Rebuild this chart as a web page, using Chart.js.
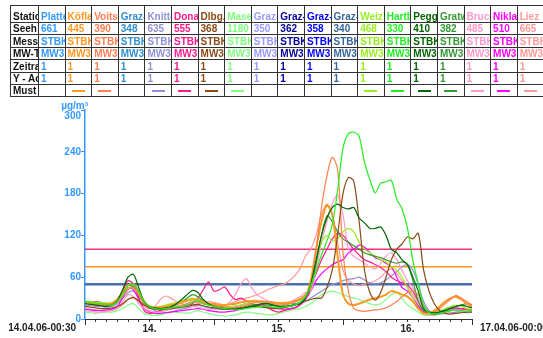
<!DOCTYPE html>
<html>
<head>
<meta charset="utf-8">
<script src="https://cdn.jsdelivr.net/npm/chart.js@4/dist/chart.umd.min.js"></script>
<style>
  html, body { margin: 0; padding: 0; background: #fff; overflow: hidden; }
  body { width: 543px; height: 338px; position: relative; font-family: "Liberation Sans", Arial, sans-serif; }
  #chart { position: absolute; left: 0; top: 0; }
  #info { position: absolute; left: 10px; top: 5px; border-collapse: collapse; table-layout: fixed; width: 533.4px; font-weight: bold; font-size: 10px; }
  #info td { border: 1px solid #333; padding: 0 0 0 2px; overflow: hidden; white-space: nowrap; line-height: 10px; vertical-align: bottom; }
  #info tr { height: 12.4px; }
  #info tr.head { height: 17px; }
  #info td.must { text-align: center; vertical-align: middle; padding: 0; }
  .sample { display: inline-block; width: 13px; height: 1.5px; vertical-align: middle; }
</style>
</head>
<body>
<canvas id="chart" width="543" height="338"></canvas>
<table id="info"></table>
<script>
// station table
const rowLabels = ['Statio', 'Seeh', 'Mess', 'MW-T', 'Zeitra', 'Y - Ac', 'Must'];
const stationNames = ['Platte', 'Köfla', 'Voits', 'Graz-', 'Knitte', 'Dona', 'Dlbg.', 'Mase', 'Graz-', 'Graz-', 'Graz-', 'Graz-', 'Weiz', 'Hartb', 'Pegg', 'Gratw', 'Bruck', 'Nikla', 'Liez'];
const stationHeights = [661, 445, 390, 348, 635, 555, 368, 1180, 350, 362, 358, 340, 468, 330, 410, 382, 485, 510, 665];
const stationColors = ['#3399ff', '#ff9922', '#ff7f50', '#2f8fd0', '#9090d8', '#ff1a8c', '#8b4a14', '#80ff80', '#9999ff', '#000099', '#0000ff', '#336699', '#99ee22', '#22ee22', '#006600', '#339933', '#ff99cc', '#ff00ff', '#ff9999'];
const messLabel = 'STBK';
const mwLabel = 'MW3';
const zeitLabel = '1';
const yLabel = '1';

// hourly values from 14.04. 00:00 to 17.04. 00:00
const hours = Array.from({ length: 73 }, (_, i) => i);

const koefla = [24,23,22,22,21,22,28,38,48,50,40, 25,18,16,17,18,20,22,24,26,28,27,25,22,
  22,20,20,21,22,24,25,26,26,25,24,24,23,23,24,26,28, 32,55,100,140,163,150,90,35,22,20,22,25,
  28,30,32,35,40,38,35,32,25,15,8,8, 12,18,25,30,32,28,22,18];
const voits = [22,21,20,20,19,20,24,32,42,45,35, 22,16,14,14,15,16,18,20,22,25,24,22,20,
  20,18,17,16,16,18,20,22,24,25,24,22,20,20,22,24,28, 35,45,100,160,205,232,215,95,40,15,12,11,
  12,13,14,16,20,25,32,38,40,35,20,10, 10,15,22,28,34,30,25,20];
const knitte = [20,19,18,18,17,18,22,30,38,40,32, 22,16,12,10,9,10,12,14,16,18,20,18,16,
  15,14,14,15,18,20,22,24,25,24,22,20,20,21,22,22,22, 25,30,35,40,45,50,52,55,57,58,60,56,
  52,50,52,56,62,68,75,78,70,50,25,12, 8,7,8,9,10,10,9,10];
const dona = [22,24,25,24,22,22,28,40,55,50,30, 12,8,10,12,14,15,16,18,20,22,30,42,53,
  40,42,46,35,28,30,26,22,20,18,16,12,10,12,14,16,20, 30,45,65,85,100,115,123,120,110,100,92,85,
  82,78,74,68,60,55,52,48,40,25,12,8, 6,8,10,12,14,15,14,12];
const dlbg = [18,17,16,15,15,16,18,22,28,31,26, 20,16,14,13,14,15,16,17,18,20,21,19,17,
  16,15,14,14,15,16,17,18,18,17,16,15,15,16,18,20,24, 26,28,30,30,45,70,120,180,203,198,140,70,
  38,27,38,60,85,100,108,118,115,123,70,40, 22,12,8,7,8,9,10,10];
const mase = [10,9,8,9,10,10,12,15,20,22,15, 8,6,5,6,8,10,10,9,8,10,12,10,8,
  6,5,4,5,6,8,10,9,8,7,6,6,8,10,12,14,15, 18,22,28,35,38,40,38,35,32,30,28,25,
  22,20,22,28,35,38,30,20,15,10,6,5, 6,8,10,12,12,10,9,10];
const weiz = [26,25,24,24,23,24,28,38,45,44,35, 22,18,17,18,20,22,24,26,28,30,28,25,22,
  20,19,18,18,19,20,22,24,25,24,22,21,20,20,22,25,30, 35,45,80,110,120,112,115,125,130,125,110,100,
  95,90,85,82,75,70,60,45,30,15,8,8, 10,12,15,18,20,18,15,14];
const hartb = [25,24,23,22,21,20,25,35,48,50,40, 25,18,15,14,15,16,17,18,20,24,26,22,20,
  18,16,15,14,13,14,15,16,17,18,18,17,16,17,18,20,24, 32,48,70,92,112,135,185,245,266,268,262,225,
  200,181,195,197,199,172,158,130,84,50,20,9, 7,8,10,12,13,12,11,12];
const pegg = [22,21,20,19,18,20,26,42,60,64,45, 25,18,16,15,16,18,22,28,35,41,38,28,22,
  18,16,15,14,14,15,16,18,20,22,22,20,18,18,19,20,22, 30,50,85,120,145,160,165,160,158,160,145,138,
  130,130,132,120,100,95,85,78,60,40,15,10, 9,10,12,15,18,20,18,16];
const gratw = [24,23,22,21,20,22,27,38,48,46,35, 22,17,15,14,15,17,20,24,30,35,32,26,22,
  19,17,16,15,15,16,18,20,21,21,20,19,18,18,19,21,24, 30,45,80,120,148,140,125,115,110,105,100,95,
  92,90,88,85,82,80,82,78,55,25,12,9, 8,10,13,16,18,20,22,20];
const bruck = [12,11,10,10,11,12,15,25,35,32,22, 15,12,10,10,12,14,15,16,18,18,17,15,14,
  14,15,18,25,35,50,58,45,35,30,26,24,22,22,24,28,32, 38,40,70,110,140,165,178,150,100,90,85,80,
  75,72,80,90,95,85,70,55,45,30,15,10, 8,9,10,12,13,12,11,12];
const nikla = [14,13,12,12,13,14,18,30,45,42,28, 15,10,8,8,9,10,11,12,13,14,15,14,12,
  11,10,10,11,12,14,16,18,20,20,18,16,15,14,15,16,20, 28,40,55,65,72,78,82,85,95,100,106,103,
  95,88,85,80,75,60,45,40,30,18,10,8, 8,10,12,15,16,15,14,13];
const liez = [15,14,13,12,12,13,15,20,28,30,25, 18,15,18,28,33,30,25,22,20,20,22,24,25,
  24,22,20,22,25,28,30,32,35,38,42,45,48,50,55,62,72, 90,100,120,150,165,150,110,70,55,50,48,50,
  52,55,60,68,72,65,55,45,35,20,12,10, 9,10,12,14,15,14,13,12];

// which station each trace belongs to (index into stationNames)
const traces = [
  [13, hartb], [14, pegg], [6, dlbg], [2, voits], [1, koefla], [15, gratw], [12, weiz],
  [16, bruck], [5, dona], [17, nikla], [4, knitte], [18, liez], [7, mase]
];

const limits = [50, 75, 100];
const limitColors = ['#4a70a8', '#ff9922', '#ee3377'];
const yTicks = [0, 60, 120, 180, 240, 300];
const dayLabels = { 12: '14.', 36: '15.', 60: '16.' };
const midnights = [0, 24, 48, 72];
const startLabel = '14.04.06-00:30';
const endLabel = '17.04.06-00:00';
const unitLabel = 'µg/m³';

// build table
const plotted = new Set(traces.map(t => t[0]));
const table = document.getElementById('info');
let html = '<colgroup><col style="width:28px">' + stationNames.map(() => '<col style="width:26.6px">').join('') + '</colgroup>';
const rowValues = [
  stationNames,
  stationHeights.map(String),
  stationNames.map(() => messLabel),
  stationNames.map(() => mwLabel),
  stationNames.map(() => zeitLabel),
  stationNames.map(() => yLabel)
];
rowLabels.forEach((label, r) => {
  html += '<tr' + (r === 0 ? ' class="head"' : '') + '><td style="color:#111">' + label + '</td>';
  stationNames.forEach((_, c) => {
    if (r < rowValues.length) {
      html += '<td style="color:' + stationColors[c] + '">' + rowValues[r][c] + '</td>';
    } else {
      html += '<td class="must">' + (plotted.has(c) ? '<span class="sample" style="background:' + stationColors[c] + '"></span>' : '') + '</td>';
    }
  });
  html += '</tr>';
});
table.innerHTML = html;

// datasets
const datasets = traces.map(([idx, vals]) => ({
  label: stationNames[idx],
  data: hours.map((h, i) => ({ x: h, y: vals[i] })),
  borderColor: stationColors[idx],
  borderWidth: idx === 1 ? 2 : 1.2,
  pointRadius: 0,
  tension: 0.3,
  fill: false
}));
limits.forEach((v, i) => {
  datasets.push({
    label: 'limit ' + v,
    data: [{ x: hours[0], y: v }, { x: hours[hours.length - 1], y: v }],
    borderColor: limitColors[i],
    borderWidth: i === 0 ? 2.5 : 1.5,
    pointRadius: 0,
    fill: false
  });
});

const font = { family: '"Liberation Sans", Arial, sans-serif', size: 10, weight: 'bold' };

const extras = {
  id: 'extras',
  afterDraw(chart) {
    const { ctx, chartArea, scales } = chart;
    ctx.save();
    ctx.strokeStyle = '#333';
    ctx.lineWidth = 1;
    midnights.forEach(h => {
      const x = Math.round(scales.x.getPixelForValue(h)) + 0.5;
      ctx.beginPath();
      ctx.moveTo(x, chartArea.bottom);
      ctx.lineTo(x, chartArea.bottom + 6);
      ctx.stroke();
    });
    ctx.font = 'bold 10px "Liberation Sans", Arial, sans-serif';
    ctx.textBaseline = 'middle';
    ctx.fillStyle = '#222';
    ctx.textAlign = 'right';
    ctx.fillText(startLabel, 76, 328);
    ctx.textAlign = 'left';
    ctx.fillText(endLabel, 480, 328);
    ctx.fillStyle = '#3399ff';
    ctx.textAlign = 'right';
    ctx.fillText(unitLabel, 88, 106);
    ctx.fillText(String(yTicks[yTicks.length - 1]), 81, 116);
    ctx.restore();
  }
};

new Chart(document.getElementById('chart'), {
  type: 'line',
  data: { datasets: datasets },
  options: {
    responsive: false,
    animation: false,
    devicePixelRatio: 1,
    layout: { padding: { left: 0, top: 110, right: 71, bottom: 0 } },
    plugins: { legend: { display: false }, tooltip: { enabled: false } },
    scales: {
      x: {
        type: 'linear',
        min: 0,
        max: 72,
        afterFit: axis => { axis.height = 19; },
        ticks: {
          stepSize: 2,
          autoSkip: false,
          maxRotation: 0,
          padding: 1,
          color: '#222',
          font: font,
          callback: v => dayLabels[v] || ''
        },
        grid: { drawOnChartArea: false, tickLength: 3, color: '#333' },
        border: { color: '#333', width: 1 }
      },
      y: {
        min: 0,
        max: 300,
        afterFit: axis => { axis.width = 85; },
        afterBuildTicks: axis => { axis.ticks = yTicks.map(v => ({ value: v })); },
        ticks: {
          padding: 0,
          color: '#3399ff',
          font: font,
          callback: v => (v === yTicks[yTicks.length - 1] ? '' : v)
        },
        grid: { drawOnChartArea: false, tickLength: 4, color: '#3399ff' },
        border: { color: '#3399ff', width: 1.5 }
      }
    }
  },
  plugins: [extras]
});
</script>
</body>
</html>
